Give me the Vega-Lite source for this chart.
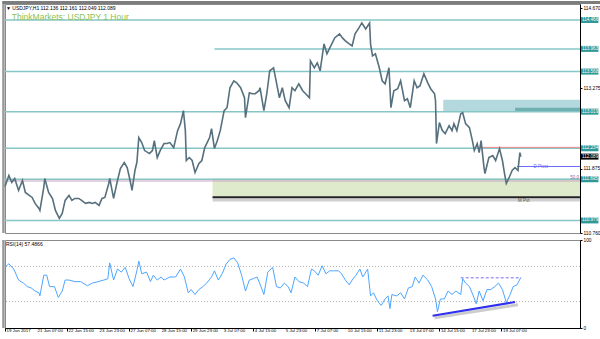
{
"$schema": "https://vega.github.io/schema/vega-lite/v6.json",
"background": "white",
"padding": {"left": 0, "top": 0, "right": 0, "bottom": 0},
"spacing": 0,
"data": {"values": [{}]},
"config": {
  "view": {"stroke": "#8a8a8a", "strokeWidth": 1},
  "axis": {"labelFont": "Liberation Sans", "labelFontSize": 4.8, "labelColor": "#000", "domainColor": "#000", "tickColor": "#000", "grid": false},
  "text": {"font": "Liberation Sans"}
},
"datasets": {
  "price": [
    {"bar":0,"close":111.570},{"bar":4,"close":111.760},{"bar":7,"close":111.639},{"bar":10,"close":111.708},{"bar":14,"close":111.500},{"bar":18,"close":111.674},{"bar":21,"close":111.466},{"bar":25,"close":111.414},{"bar":28,"close":111.379},{"bar":31,"close":111.275},{"bar":35,"close":111.188},{"bar":36,"close":111.153},{"bar":40,"close":111.552},{"bar":41,"close":111.708},{"bar":45,"close":111.466},{"bar":49,"close":111.361},{"bar":52,"close":111.153},{"bar":56,"close":111.015},{"bar":59,"close":111.101},{"bar":62,"close":111.327},{"bar":66,"close":111.414},{"bar":69,"close":111.327},{"bar":72,"close":111.361},{"bar":76,"close":111.361},{"bar":79,"close":111.327},{"bar":83,"close":111.275},{"bar":87,"close":111.292},{"bar":90,"close":111.275},{"bar":93,"close":111.292},{"bar":97,"close":111.240},{"bar":100,"close":111.361},{"bar":103,"close":111.379},{"bar":107,"close":111.622},{"bar":108,"close":111.708},{"bar":112,"close":111.361},{"bar":116,"close":111.674},{"bar":119,"close":111.882},{"bar":123,"close":111.986},{"bar":126,"close":111.899},{"bar":129,"close":111.674},{"bar":131,"close":111.500},{"bar":134,"close":111.847},{"bar":136,"close":111.986},{"bar":138,"close":112.420},{"bar":141,"close":112.333},{"bar":144,"close":112.194},{"bar":149,"close":112.142},{"bar":152,"close":112.194},{"bar":154,"close":112.368},{"bar":157,"close":112.073},{"bar":160,"close":112.194},{"bar":164,"close":112.316},{"bar":167,"close":112.316},{"bar":170,"close":112.333},{"bar":174,"close":112.246},{"bar":178,"close":112.541},{"bar":181,"close":112.662},{"bar":184,"close":112.888},{"bar":186,"close":112.541},{"bar":187,"close":112.021},{"bar":190,"close":112.073},{"bar":193,"close":112.021},{"bar":196,"close":111.812},{"bar":200,"close":111.969},{"bar":203,"close":112.021},{"bar":206,"close":112.246},{"bar":211,"close":112.420},{"bar":213,"close":112.576},{"bar":216,"close":112.229},{"bar":219,"close":112.368},{"bar":222,"close":112.541},{"bar":226,"close":112.888},{"bar":229,"close":112.940},{"bar":232,"close":113.287},{"bar":236,"close":113.408},{"bar":239,"close":113.373},{"bar":243,"close":113.287},{"bar":247,"close":113.113},{"bar":248,"close":112.766},{"bar":252,"close":113.200},{"bar":255,"close":113.183},{"bar":258,"close":113.183},{"bar":262,"close":113.235},{"bar":263,"close":113.287},{"bar":267,"close":112.888},{"bar":270,"close":113.183},{"bar":273,"close":113.582},{"bar":277,"close":113.634},{"bar":279,"close":113.460},{"bar":283,"close":113.113},{"bar":286,"close":113.287},{"bar":289,"close":113.061},{"bar":293,"close":112.940},{"bar":296,"close":113.287},{"bar":299,"close":113.235},{"bar":303,"close":113.356},{"bar":307,"close":113.235},{"bar":310,"close":113.183},{"bar":314,"close":113.113},{"bar":315,"close":113.755},{"bar":319,"close":113.634},{"bar":322,"close":113.721},{"bar":325,"close":113.582},{"bar":329,"close":114.050},{"bar":332,"close":113.877},{"bar":335,"close":113.981},{"bar":340,"close":114.154},{"bar":345,"close":114.224},{"bar":348,"close":114.154},{"bar":351,"close":114.102},{"bar":355,"close":114.050},{"bar":358,"close":114.015},{"bar":361,"close":114.224},{"bar":365,"close":114.328},{"bar":368,"close":114.414},{"bar":372,"close":114.310},{"bar":376,"close":114.414},{"bar":377,"close":114.050},{"bar":379,"close":113.842},{"bar":382,"close":113.877},{"bar":386,"close":113.634},{"bar":389,"close":113.408},{"bar":392,"close":113.356},{"bar":396,"close":113.634},{"bar":398,"close":112.940},{"bar":401,"close":113.235},{"bar":405,"close":113.270},{"bar":408,"close":113.408},{"bar":412,"close":113.061},{"bar":415,"close":113.096},{"bar":418,"close":112.940},{"bar":422,"close":113.408},{"bar":425,"close":113.287},{"bar":428,"close":113.322},{"bar":432,"close":113.530},{"bar":436,"close":113.373},{"bar":439,"close":113.270},{"bar":443,"close":113.183},{"bar":444,"close":113.061},{"bar":445,"close":112.316},{"bar":448,"close":112.680},{"bar":451,"close":112.541},{"bar":454,"close":112.489},{"bar":458,"close":112.628},{"bar":461,"close":112.541},{"bar":463,"close":112.662},{"bar":466,"close":112.541},{"bar":470,"close":112.836},{"bar":472,"close":112.853},{"bar":475,"close":112.662},{"bar":479,"close":112.593},{"bar":482,"close":112.368},{"bar":484,"close":112.194},{"bar":487,"close":112.316},{"bar":489,"close":112.159},{"bar":491,"close":112.368},{"bar":494,"close":111.899},{"bar":495,"close":111.795},{"bar":499,"close":112.073},{"bar":503,"close":112.107},{"bar":506,"close":112.021},{"bar":510,"close":112.229},{"bar":513,"close":112.021},{"bar":515,"close":111.812},{"bar":517,"close":111.622},{"bar":520,"close":111.726},{"bar":523,"close":111.847},{"bar":526,"close":111.899},{"bar":529,"close":111.847},{"bar":531,"close":112.159},{"bar":532,"close":112.089}
  ],
  "rsi": [
    {"bar":0,"rsi":69},{"bar":4,"rsi":73},{"bar":9,"rsi":67},{"bar":14,"rsi":54.5},{"bar":19,"rsi":51},{"bar":23,"rsi":47},{"bar":27,"rsi":45.5},{"bar":31,"rsi":42},{"bar":35,"rsi":40},{"bar":36,"rsi":36.5},{"bar":40,"rsi":60},{"bar":43,"rsi":60},{"bar":46,"rsi":47},{"bar":51,"rsi":47},{"bar":55,"rsi":34.7},{"bar":59,"rsi":42},{"bar":62,"rsi":54.5},{"bar":66,"rsi":54.5},{"bar":72,"rsi":52.7},{"bar":78,"rsi":52.7},{"bar":85,"rsi":48},{"bar":90,"rsi":51},{"bar":96,"rsi":52.7},{"bar":102,"rsi":54.5},{"bar":106,"rsi":56},{"bar":108,"rsi":74},{"bar":112,"rsi":54.5},{"bar":116,"rsi":67},{"bar":120,"rsi":63.5},{"bar":124,"rsi":69},{"bar":128,"rsi":56},{"bar":132,"rsi":47},{"bar":136,"rsi":65},{"bar":138,"rsi":76},{"bar":141,"rsi":61.7},{"bar":146,"rsi":63.5},{"bar":150,"rsi":52.7},{"bar":153,"rsi":60},{"bar":157,"rsi":54.5},{"bar":161,"rsi":58},{"bar":164,"rsi":54.5},{"bar":170,"rsi":58},{"bar":176,"rsi":58},{"bar":181,"rsi":67},{"bar":185,"rsi":58},{"bar":189,"rsi":40},{"bar":192,"rsi":43.7},{"bar":196,"rsi":38},{"bar":200,"rsi":43.7},{"bar":204,"rsi":47},{"bar":208,"rsi":51},{"bar":213,"rsi":58},{"bar":216,"rsi":65},{"bar":220,"rsi":54.5},{"bar":224,"rsi":61.7},{"bar":228,"rsi":72.5},{"bar":232,"rsi":78},{"bar":236,"rsi":79.7},{"bar":240,"rsi":74},{"bar":244,"rsi":60},{"bar":248,"rsi":42},{"bar":252,"rsi":54.5},{"bar":256,"rsi":56},{"bar":260,"rsi":58},{"bar":264,"rsi":47},{"bar":267,"rsi":38},{"bar":271,"rsi":63.5},{"bar":276,"rsi":69},{"bar":280,"rsi":47},{"bar":284,"rsi":45.5},{"bar":288,"rsi":51},{"bar":292,"rsi":47},{"bar":295,"rsi":40},{"bar":299,"rsi":58},{"bar":303,"rsi":52.7},{"bar":308,"rsi":51},{"bar":312,"rsi":47},{"bar":316,"rsi":67},{"bar":319,"rsi":65},{"bar":323,"rsi":60},{"bar":327,"rsi":70.7},{"bar":331,"rsi":61.7},{"bar":335,"rsi":65},{"bar":340,"rsi":65},{"bar":344,"rsi":65},{"bar":347,"rsi":61.7},{"bar":351,"rsi":54.5},{"bar":355,"rsi":49},{"bar":358,"rsi":54.5},{"bar":362,"rsi":60},{"bar":366,"rsi":67},{"bar":369,"rsi":58},{"bar":374,"rsi":67},{"bar":377,"rsi":36.5},{"bar":380,"rsi":40},{"bar":384,"rsi":31},{"bar":388,"rsi":25.7},{"bar":392,"rsi":33},{"bar":395,"rsi":36.5},{"bar":397,"rsi":22},{"bar":399,"rsi":38},{"bar":404,"rsi":36.5},{"bar":408,"rsi":40},{"bar":412,"rsi":33},{"bar":416,"rsi":45.5},{"bar":420,"rsi":47},{"bar":423,"rsi":58},{"bar":427,"rsi":51},{"bar":431,"rsi":60},{"bar":436,"rsi":54.5},{"bar":440,"rsi":47},{"bar":444,"rsi":33},{"bar":446,"rsi":18.5},{"bar":449,"rsi":33},{"bar":453,"rsi":33},{"bar":457,"rsi":42},{"bar":461,"rsi":38},{"bar":465,"rsi":42},{"bar":470,"rsi":38},{"bar":472,"rsi":56},{"bar":475,"rsi":51},{"bar":479,"rsi":47},{"bar":483,"rsi":36.5},{"bar":486,"rsi":27.5},{"bar":489,"rsi":42},{"bar":493,"rsi":31},{"bar":497,"rsi":43.7},{"bar":501,"rsi":43.7},{"bar":505,"rsi":47},{"bar":509,"rsi":51},{"bar":513,"rsi":43.7},{"bar":517,"rsi":29},{"bar":521,"rsi":38},{"bar":524,"rsi":47},{"bar":528,"rsi":49},{"bar":532,"rsi":57.5}
  ],
  "xticks": [
    {"bar":0,"label":"19 Jun 2017"},{"bar":32,"label":"21 Jun 07:00"},{"bar":64,"label":"22 Jun 15:00"},{"bar":96,"label":"23 Jun 23:00"},{"bar":128,"label":"27 Jun 07:00"},{"bar":160,"label":"28 Jun 15:00"},{"bar":192,"label":"29 Jun 23:00"},{"bar":224,"label":"3 Jul 07:00"},{"bar":256,"label":"4 Jul 15:00"},{"bar":288,"label":"5 Jul 23:00"},{"bar":320,"label":"7 Jul 07:00"},{"bar":352,"label":"10 Jul 15:00"},{"bar":384,"label":"11 Jul 23:00"},{"bar":416,"label":"13 Jul 07:00"},{"bar":448,"label":"14 Jul 15:00"},{"bar":480,"label":"17 Jul 23:00"},{"bar":512,"label":"19 Jul 07:00"}
  ],
  "levels": [{"price":114.466},{"price":113.568},{"price":112.871},{"price":112.234},{"price":111.695},{"price":110.979}],
  "tags": [{"price":114.466,"label":"114.466"},{"price":113.963,"label":"113.963"},{"price":113.568,"label":"113.568"},{"price":112.871,"label":"113.019"},{"price":112.234,"label":"112.234"},{"price":111.695,"label":"111.695"},{"price":110.979,"label":"110.979"}],
  "current": [{"price":112.089,"label":"112.089"}]
},
"vconcat": [
  {
    "width": 575, "height": 229,
    "layer": [
      {"mark": {"type": "rect", "color": "#dfe9cb"},
       "encoding": {"x": {"datum": 214, "type": "quantitative", "scale": {"domain": [0, 593], "nice": false, "zero": false}, "axis": null}, "x2": {"datum": 593},
                    "y": {"datum": 111.708, "type": "quantitative", "scale": {"domain": [110.76, 114.744], "nice": false, "zero": false}}, "y2": {"datum": 111.396}}},
      {"mark": {"type": "rect", "color": "#b3d9df"},
       "encoding": {"x": {"datum": 452, "type": "quantitative", "scale": {"domain": [0, 593], "nice": false, "zero": false}, "axis": null}, "x2": {"datum": 593},
                    "y": {"datum": 113.079, "type": "quantitative", "scale": {"domain": [110.76, 114.744], "nice": false, "zero": false}}, "y2": {"datum": 112.871}}},
      {"mark": {"type": "rect", "color": "#6fb0b0"},
       "encoding": {"x": {"datum": 526, "type": "quantitative", "scale": {"domain": [0, 593], "nice": false, "zero": false}, "axis": null}, "x2": {"datum": 593},
                    "y": {"datum": 112.94, "type": "quantitative", "scale": {"domain": [110.76, 114.744], "nice": false, "zero": false}}, "y2": {"datum": 112.871}}},
      {"mark": {"type": "rule", "color": "#d0d0d0", "strokeWidth": 3},
       "encoding": {"x": {"datum": 214, "type": "quantitative", "scale": {"domain": [0, 593], "nice": false, "zero": false}, "axis": null}, "x2": {"datum": 593},
                    "y": {"datum": 111.335, "type": "quantitative", "scale": {"domain": [110.76, 114.744], "nice": false, "zero": false}}}},
      {"mark": {"type": "rule", "color": "#222222", "strokeWidth": 2},
       "encoding": {"x": {"datum": 214, "type": "quantitative", "scale": {"domain": [0, 593], "nice": false, "zero": false}, "axis": null}, "x2": {"datum": 593},
                    "y": {"datum": 111.38, "type": "quantitative", "scale": {"domain": [110.76, 114.744], "nice": false, "zero": false}}}},
      {"data": {"name": "levels"},
       "mark": {"type": "rule", "color": "#86c6c6", "strokeWidth": 1.5},
       "encoding": {"y": {"field": "price", "type": "quantitative", "scale": {"domain": [110.76, 114.744], "nice": false, "zero": false}}}},
      {"mark": {"type": "rule", "color": "#86c6c6", "strokeWidth": 1.5},
       "encoding": {"x": {"datum": 216, "type": "quantitative", "scale": {"domain": [0, 593], "nice": false, "zero": false}, "axis": null}, "x2": {"datum": 593},
                    "y": {"datum": 113.963, "type": "quantitative", "scale": {"domain": [110.76, 114.744], "nice": false, "zero": false}}}},
      {"mark": {"type": "rule", "color": "#c9a3c0", "strokeWidth": 1},
       "encoding": {"y": {"datum": 111.665, "type": "quantitative", "scale": {"domain": [110.76, 114.744], "nice": false, "zero": false}}}},
      {"mark": {"type": "rule", "color": "#f08a8a", "strokeWidth": 1},
       "encoding": {"x": {"datum": 489, "type": "quantitative", "scale": {"domain": [0, 593], "nice": false, "zero": false}, "axis": null}, "x2": {"datum": 593},
                    "y": {"datum": 112.25, "type": "quantitative", "scale": {"domain": [110.76, 114.744], "nice": false, "zero": false}}}},
      {"mark": {"type": "rule", "color": "#6b6bff", "strokeWidth": 1},
       "encoding": {"x": {"datum": 528, "type": "quantitative", "scale": {"domain": [0, 593], "nice": false, "zero": false}, "axis": null}, "x2": {"datum": 593},
                    "y": {"datum": 111.917, "type": "quantitative", "scale": {"domain": [110.76, 114.744], "nice": false, "zero": false}}}},
      {"mark": {"type": "rule", "color": "#7d7d7d", "strokeWidth": 3},
       "encoding": {"x": {"datum": -2.9, "type": "quantitative", "scale": {"domain": [0, 593], "nice": false, "zero": false}, "axis": null}, "x2": {"datum": 616},
                    "y": {"datum": 114.770, "type": "quantitative", "scale": {"domain": [110.76, 114.744], "nice": false, "zero": false}}}},
      {"mark": {"type": "rule", "color": "#9a9a9a", "strokeWidth": 2.5},
       "encoding": {"x": {"datum": -1.6, "type": "quantitative", "scale": {"domain": [0, 593], "nice": false, "zero": false}, "axis": null},
                    "y": {"datum": 114.744, "type": "quantitative", "scale": {"domain": [110.76, 114.744], "nice": false, "zero": false}}, "y2": {"datum": 110.76}}},
      {"data": {"name": "price"},
       "mark": {"type": "line", "color": "#56707d", "strokeWidth": 1.6},
       "encoding": {"x": {"field": "bar", "type": "quantitative", "scale": {"domain": [0, 593], "nice": false, "zero": false}, "axis": null},
                    "y": {"field": "close", "type": "quantitative", "scale": {"domain": [110.76, 114.744], "nice": false, "zero": false},
                          "axis": {"orient": "right", "values": [114.670, 114.395, 114.115, 113.835, 113.275, 112.995, 112.715, 112.435, 111.875, 111.600, 111.320, 111.040, 110.760], "format": ".3f", "tickSize": 2, "labelPadding": 1, "title": null}}}},
      {"data": {"name": "tags"},
       "mark": {"type": "rule", "color": "#2f9898", "strokeWidth": 6},
       "encoding": {"x": {"datum": 594, "type": "quantitative", "scale": {"domain": [0, 593], "nice": false, "zero": false}, "axis": null}, "x2": {"datum": 612},
                    "y": {"field": "price", "type": "quantitative", "scale": {"domain": [110.76, 114.744], "nice": false, "zero": false}}}},
      {"data": {"name": "tags"},
       "mark": {"type": "text", "color": "#ffffff", "fontSize": 4.6, "align": "left", "baseline": "middle", "dx": 1},
       "encoding": {"x": {"datum": 594, "type": "quantitative", "scale": {"domain": [0, 593], "nice": false, "zero": false}, "axis": null},
                    "y": {"field": "price", "type": "quantitative", "scale": {"domain": [110.76, 114.744], "nice": false, "zero": false}}, "text": {"field": "label"}}},
      {"data": {"name": "current"},
       "mark": {"type": "rule", "color": "#000000", "strokeWidth": 6},
       "encoding": {"x": {"datum": 594, "type": "quantitative", "scale": {"domain": [0, 593], "nice": false, "zero": false}, "axis": null}, "x2": {"datum": 612},
                    "y": {"field": "price", "type": "quantitative", "scale": {"domain": [110.76, 114.744], "nice": false, "zero": false}}}},
      {"data": {"name": "current"},
       "mark": {"type": "text", "color": "#ffffff", "fontSize": 4.6, "align": "left", "baseline": "middle", "dx": 1},
       "encoding": {"x": {"datum": 594, "type": "quantitative", "scale": {"domain": [0, 593], "nice": false, "zero": false}, "axis": null},
                    "y": {"field": "price", "type": "quantitative", "scale": {"domain": [110.76, 114.744], "nice": false, "zero": false}}, "text": {"field": "label"}}},
      {"mark": {"type": "text", "color": "#6b6bff", "fontSize": 4.5, "align": "left", "baseline": "middle"},
       "encoding": {"x": {"datum": 545, "type": "quantitative", "scale": {"domain": [0, 593], "nice": false, "zero": false}, "axis": null},
                    "y": {"datum": 111.90, "type": "quantitative", "scale": {"domain": [110.76, 114.744], "nice": false, "zero": false}}, "text": {"value": "D Pivot"}}},
      {"mark": {"type": "text", "color": "#8a5fa8", "fontSize": 4.5, "align": "left", "baseline": "middle"},
       "encoding": {"x": {"datum": 583, "type": "quantitative", "scale": {"domain": [0, 593], "nice": false, "zero": false}, "axis": null},
                    "y": {"datum": 111.71, "type": "quantitative", "scale": {"domain": [110.76, 114.744], "nice": false, "zero": false}}, "text": {"value": "50.0"}}},
      {"mark": {"type": "text", "color": "#555555", "fontSize": 4.5, "align": "left", "baseline": "middle"},
       "encoding": {"x": {"datum": 529, "type": "quantitative", "scale": {"domain": [0, 593], "nice": false, "zero": false}, "axis": null},
                    "y": {"datum": 111.31, "type": "quantitative", "scale": {"domain": [110.76, 114.744], "nice": false, "zero": false}}, "text": {"value": "M Pvt"}}},
      {"mark": {"type": "text", "color": "#000000", "fontSize": 5, "align": "left", "baseline": "middle"},
       "encoding": {"x": {"datum": 1, "type": "quantitative", "scale": {"domain": [0, 593], "nice": false, "zero": false}, "axis": null},
                    "y": {"datum": 114.67, "type": "quantitative", "scale": {"domain": [110.76, 114.744], "nice": false, "zero": false}}, "text": {"value": "▼ USDJPY,H1  112.136 112.161 112.049 112.089"}}},
      {"mark": {"type": "text", "color": "#8cc152", "fontSize": 8.5, "align": "left", "baseline": "middle"},
       "encoding": {"x": {"datum": 7, "type": "quantitative", "scale": {"domain": [0, 593], "nice": false, "zero": false}, "axis": null},
                    "y": {"datum": 114.52, "type": "quantitative", "scale": {"domain": [110.76, 114.744], "nice": false, "zero": false}}, "text": {"value": "ThinkMarkets: USDJPY  1 Hour"}}}
    ]
  },
  {
    "width": 575, "height": 88,
    "layer": [
      {"mark": {"type": "rule", "color": "#b0b0b0", "strokeDash": [1, 2], "strokeWidth": 1},
       "encoding": {"y": {"datum": 70, "type": "quantitative", "scale": {"domain": [0, 100], "nice": false}}}},
      {"mark": {"type": "rule", "color": "#b0b0b0", "strokeDash": [1, 2], "strokeWidth": 1},
       "encoding": {"y": {"datum": 30, "type": "quantitative", "scale": {"domain": [0, 100], "nice": false}}}},
      {"mark": {"type": "rule", "color": "#9a9a9a", "strokeWidth": 2.5},
       "encoding": {"x": {"datum": -1.6, "type": "quantitative", "scale": {"domain": [0, 593], "nice": false, "zero": false}},
                    "y": {"datum": 100, "type": "quantitative", "scale": {"domain": [0, 100], "nice": false}}, "y2": {"datum": 0}}},
      {"data": {"name": "rsi"},
       "mark": {"type": "line", "color": "#4da6ff", "strokeWidth": 1},
       "encoding": {"x": {"field": "bar", "type": "quantitative", "scale": {"domain": [0, 593], "nice": false, "zero": false},
                          "axis": {"orient": "bottom", "title": null, "values": [0, 32, 64, 96, 128, 160, 192, 224, 256, 288, 320, 352, 384, 416, 448, 480, 512], "labels": false, "tickSize": 3}},
                    "y": {"field": "rsi", "type": "quantitative", "scale": {"domain": [0, 100], "nice": false},
                          "axis": {"orient": "right", "title": null, "values": [100, 70, 30, 0], "tickSize": 2, "labelPadding": 1}}}},
      {"data": {"name": "xticks"},
       "mark": {"type": "text", "color": "#000000", "fontSize": 4.4, "align": "left", "baseline": "top", "dx": 1.5, "dy": 1},
       "encoding": {"x": {"field": "bar", "type": "quantitative", "scale": {"domain": [0, 593], "nice": false, "zero": false}},
                    "y": {"datum": 0, "type": "quantitative", "scale": {"domain": [0, 100], "nice": false}}, "text": {"field": "label"}}},
      {"mark": {"type": "rule", "color": "#7b6cf0", "strokeDash": [3, 2], "strokeWidth": 1},
       "encoding": {"x": {"datum": 470, "type": "quantitative", "scale": {"domain": [0, 593], "nice": false, "zero": false}}, "x2": {"datum": 532},
                    "y": {"datum": 57, "type": "quantitative", "scale": {"domain": [0, 100], "nice": false}}}},
      {"mark": {"type": "rule", "color": "#cccccc", "strokeWidth": 3},
       "encoding": {"x": {"datum": 443, "type": "quantitative", "scale": {"domain": [0, 593], "nice": false, "zero": false}}, "x2": {"datum": 529},
                    "y": {"datum": 11.5, "type": "quantitative", "scale": {"domain": [0, 100], "nice": false}}, "y2": {"datum": 26.5}}},
      {"mark": {"type": "rule", "color": "#2f2fee", "strokeWidth": 2},
       "encoding": {"x": {"datum": 441, "type": "quantitative", "scale": {"domain": [0, 593], "nice": false, "zero": false}}, "x2": {"datum": 526},
                    "y": {"datum": 14, "type": "quantitative", "scale": {"domain": [0, 100], "nice": false}}, "y2": {"datum": 29.5}}},
      {"mark": {"type": "text", "color": "#000000", "fontSize": 5, "align": "left", "baseline": "middle"},
       "encoding": {"x": {"datum": 1, "type": "quantitative", "scale": {"domain": [0, 593], "nice": false, "zero": false}},
                    "y": {"datum": 95, "type": "quantitative", "scale": {"domain": [0, 100], "nice": false}}, "text": {"value": "RSI(14) 57.4866"}}}
    ]
  }
]
}
